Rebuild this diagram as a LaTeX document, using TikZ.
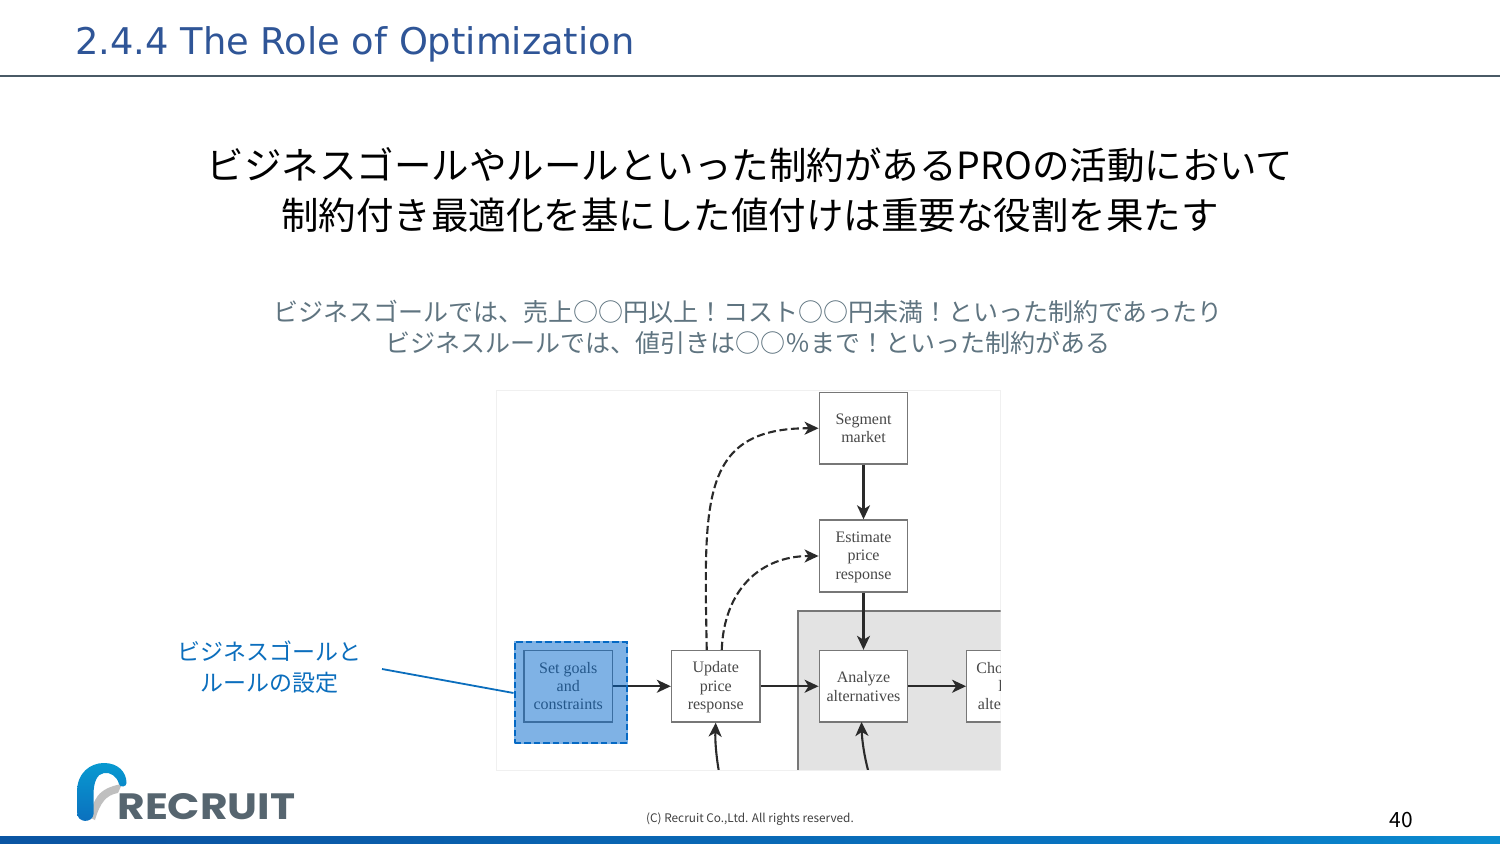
\documentclass[tikz,border=0pt]{standalone}
\usepackage{fontspec}
\usepackage{graphicx}
\setmainfont{DejaVu Sans}
\newfontfamily\cjk{Noto Sans CJK JP}
\newfontfamily\logofont{Poppins}
\newfontfamily\serifdia{Liberation Serif}
\usetikzlibrary{arrows.meta}
\definecolor{titleblue}{HTML}{2F5597}
\definecolor{rulecol}{HTML}{4A5A66}
\definecolor{subgray}{HTML}{5F7480}
\definecolor{callblue}{HTML}{0B6EBD}
\definecolor{boxedge}{HTML}{777777}
\definecolor{diatext}{HTML}{484848}
\definecolor{arrowcol}{HTML}{2A2A2A}
\definecolor{logogray}{HTML}{56656F}
\definecolor{barA}{HTML}{0A55A3}
\definecolor{barB}{HTML}{0878C4}
\definecolor{barC}{HTML}{0FA3DC}
\definecolor{barD}{HTML}{58BDEA}
\pgfdeclarehorizontalshading{footerbar}{100bp}{
  color(0bp)=(barA); color(30bp)=(barA); color(66bp)=(barB); color(85bp)=(barC); color(100bp)=(barD)}
\tikzset{
  x=.5pt,y=-.5pt,
  diabox/.style={draw=boxedge,line width=.7pt,fill=white,minimum width=44.25pt,minimum height=35.75pt,inner sep=0pt,align=center,text=diatext,font=\serifdia\fontsize{8}{9.3}\selectfont},
  solidarrow/.style={draw=arrowcol,line width=1.05pt,-{Stealth[length=7pt,width=6.5pt,inset=2pt]}},
  dasharrow/.style={solidarrow,dash pattern=on 4pt off 1.8pt},
  headline/.style={align=center,font=\cjk\fontsize{18.75}{25}\selectfont,text=black,inner sep=0pt},
  subline/.style={align=center,font=\cjk\fontsize{12.5}{15.5}\selectfont,text=subgray,inner sep=0pt},
  calltext/.style={align=center,font=\cjk\fontsize{11.5}{15.7}\selectfont,text=callblue,inner sep=0pt},
  cliptext/.style={anchor=west,inner sep=0pt,text=diatext,font=\serifdia\fontsize{8}{9.3}\selectfont}
}
\begin{document}
\begin{tikzpicture}
\useasboundingbox (0,0) rectangle (1500,844);
\fill[white] (0,0) rectangle (1500,844);
% header
\node[anchor=base west,inner sep=0pt,text=titleblue,font=\fontsize{18.4}{22}\selectfont] (title) at (75,55) {2.4.4 The Role of Optimization};
\draw[rulecol,line width=.8pt] (0,76) -- (1500,76);
% headings
\node[headline] (head) at (750,190.5) {ビジネスゴールやルールといった制約があるPROの活動において\\制約付き最適化を基にした値付けは重要な役割を果たす};
\node[subline] (sub) at (748,327) {ビジネスゴールでは、売上○○円以上！コスト○○円未満！といった制約であったり\\ビジネスルールでは、値引きは○○％まで！といった制約がある};
% diagram panel
\draw[draw=black!6,line width=.5pt,fill=white] (496,391) rectangle (1000.5,770);
\begin{scope}
\clip (496,391) rectangle (1000.5,769.5);
\draw[draw=boxedge,line width=.7pt,fill=black!11] (798,611) rectangle (1040,790);
\node[diabox] (segment) at (863.5,428.25) [minimum height=35.75pt] {Segment\\market};
\node[diabox] (estimate) at (863.5,556) [minimum height=36pt] {\rule{0pt}{6.7pt}Estimate\\price\\response};
\node[diabox] (goals) at (568.25,686.25) {Set goals\\[-.4pt]and\\[-.4pt]constraints};
\node[diabox] (update) at (715.75,686.25) {\rule{0pt}{6.7pt}Update\\price\\response};
\node[diabox] (analyze) at (863.5,686.25) {Analyze\\alternatives};
\node[diabox] (choose) at (1011,686.25) {};
\node[cliptext] (chooseA) at (976,668.5) {Cho};
\node[cliptext] (chooseB) at (998,686) {l};
\node[cliptext] (chooseC) at (977.5,704) {alte};
\draw[solidarrow] (segment) -- (estimate);
\draw[solidarrow] (estimate) -- (analyze);
\draw[solidarrow] (goals) -- (update);
\draw[solidarrow] (update) -- (analyze);
\draw[solidarrow] (analyze) -- (choose);
\draw[dasharrow] ([xshift=-4.5pt]update.north) .. controls (704,500) and (700,428) .. (segment.west);
\draw[dasharrow] ([xshift=3pt]update.north) .. controls (724,590) and (760,556) .. (estimate.west);
\coordinate (updfoot) at (719,772);
\coordinate (anafoot) at (868.5,772);
\draw[solidarrow] (updfoot) .. controls (716,755) and (715,740) .. (update.south);
\draw[solidarrow] (anafoot) .. controls (864,755) and (862,740) .. (861.5,722);
\end{scope}
% highlight
\node[draw=callblue,line width=1pt,dash pattern=on 3.2pt off 1.6pt,fill=none,minimum width=56pt,minimum height=50.5pt,inner sep=0pt] (hl) at (570.5,692.5) {};
\fill[fill={rgb,255:red,0;green,102;blue,204},fill opacity=.5] (hl.south west) rectangle (hl.north east);
% callout
\node[calltext] (call) at (269.5,667) {ビジネスゴールと\\ルールの設定};
\coordinate (callend) at (382,669);
\draw[callblue,line width=.9pt] (callend) -- (hl.west |- 0,693);
% logo
\fill[black!25] (91,818) .. controls (92,800) and (98,788) .. (122,784) -- (118,793)  .. controls (106,795) and (100,803) .. (95,820) -- cycle;
\shade[top color=callblue!70!cyan,bottom color=callblue] (77,812)
  -- (77,792) .. controls (77,773) and (90,763) .. (104,763)
  .. controls (118,763) and (126.5,772) .. (126.5,783)
  .. controls (126.5,787) and (120,788) .. (119,784)
  .. controls (117,776) and (110,772) .. (104,773)
  .. controls (97,774) and (93.5,782) .. (93.5,795)
  -- (93.5,814) .. controls (93,823) and (77,824) .. (77,812) -- cycle;
\node[anchor=south west,inner sep=0pt,text=logogray] (logo) at (117,820) {\resizebox{89pt}{13pt}{\logofont\bfseries RECRUIT}};
% footer
\node[inner sep=0pt,font=\cjk\fontsize{5.9}{8}\selectfont,text=black!75] (copy) at (750,819) {(C) Recruit Co.,Ltd. All rights reserved.};
\node[inner sep=0pt,font=\cjk\fontsize{10.5}{12}\selectfont,text=black] (page) at (1401,820) {40};
\shade[shading=footerbar] (0,836.5) rectangle (1500,844);
\end{tikzpicture}
\end{document}
